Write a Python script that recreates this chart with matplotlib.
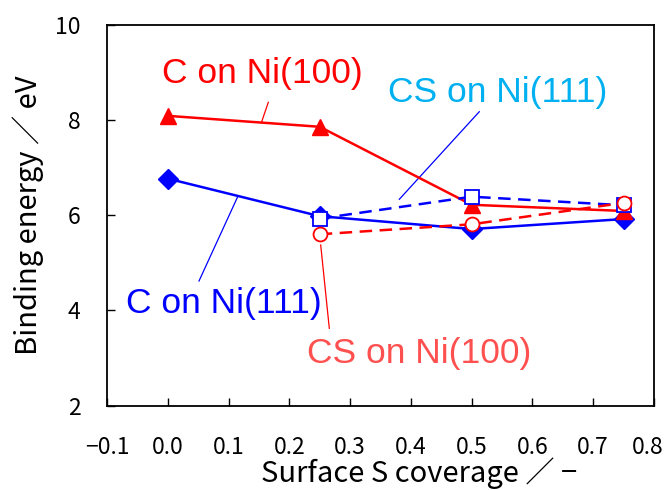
import matplotlib
matplotlib.use("Agg")
import matplotlib.pyplot as plt
import matplotlib.transforms as mtrans

coverage = [0.0, 0.25, 0.5, 0.75]
c_ni100 = [8.09, 7.86, 6.22, 6.09]
c_ni111 = [6.77, 5.98, 5.71, 5.92]
cs_coverage = [0.25, 0.5, 0.75]
cs_ni111 = [5.93, 6.39, 6.21]
cs_ni100 = [5.60, 5.81, 6.26]

xticks = [-0.1, 0.0, 0.1, 0.2, 0.3, 0.4, 0.5, 0.6, 0.7, 0.8]
yticks = [2, 4, 6, 8, 10]

JP = ['Noto Sans CJK JP', 'DejaVu Sans']
AR = ['Liberation Sans', 'DejaVu Sans']

W, H = 667, 490
fig = plt.figure(figsize=(W / 100, H / 100), dpi=100)
L, R, T, B = 107, 654, 25, 405.5
ax = fig.add_axes([L / W, 1 - B / H, (R - L) / W, (B - T) / H])

ax.plot(coverage, c_ni111, color='#0000FF', lw=1.8, marker='D', ms=10, zorder=3)
ax.plot(coverage, c_ni100, color='#FF0000', lw=1.8, marker='^', ms=11, zorder=3)
ax.plot(cs_coverage, cs_ni111, color='#0000FF', lw=1.8, ls=(0, (5, 3)), marker='s',
        ms=10, mfc='white', mec='#0000FF', mew=1.3, zorder=4)
ax.plot(cs_coverage, cs_ni100, color='#FF0000', lw=1.8, ls=(0, (5, 3)), marker='o',
        ms=10, mfc='white', mec='#FF0000', mew=1.3, zorder=4)

ax.set_xlim(-0.1, 0.8)
ax.set_ylim(2, 10)
ax.set_xticks(xticks)
ax.set_xticklabels([f"{t:.1f}".replace('-', '\u2212') for t in xticks], family=JP)
ax.set_yticks(yticks)
ax.set_yticklabels([str(t) for t in yticks], family=JP)
ax.tick_params(direction='in', length=6, width=1, labelsize=16.5)
ax.tick_params(axis='x', pad=22)
ax.tick_params(axis='y', pad=19)
for s in ax.spines.values():
    s.set_linewidth(1.3)

# nudge the last x tick label so it stays inside the canvas (as in the reference)
last = ax.get_xticklabels()[-1]
last.set_transform(last.get_transform() +
                   mtrans.ScaledTranslation(-6 / 100, 0, fig.dpi_scale_trans))

fig.text(28 / W, 1 - 215 / H, 'Binding energy \uff0f eV', fontsize=21, family=JP,
         rotation=90, ha='center', va='center')
fig.text(419 / W, 1 - 482 / H, 'Surface S coverage \uff0f \u2212', fontsize=21,
         family=JP, ha='center', va='baseline')


def px2data(px, py):
    return (-0.1 + (px - L) / (R - L) * 0.9, 2 + (B - py) / (B - T) * 8)


def label(text, color, cx, baseline, p1, p2, lcolor):
    x, y = px2data(cx, baseline)
    ax.text(x, y, text, color=color, fontsize=25.5, family=AR, ha='center',
            va='baseline', zorder=5)
    (x1, y1), (x2, y2) = px2data(*p1), px2data(*p2)
    ax.plot([x1, x2], [y1, y2], color=lcolor, lw=0.9, zorder=2)


label('C on Ni(100)', '#FF0000', 262.5, 83.5, (261.7, 121.7), (268.3, 102.3), '#FF0000')
label('CS on Ni(111)', '#00B0F0', 497.5, 101.7, (399.3, 199.3), (479.3, 111.7), '#0000FF')
label('C on Ni(111)', '#0000FF', 224, 313.3, (237.7, 196.7), (199, 281), '#0000FF')
label('CS on Ni(100)', '#FF5050', 419, 363.3, (320.7, 245), (329.3, 328.3), '#FF0000')

plt.savefig('out.png', dpi=100)
